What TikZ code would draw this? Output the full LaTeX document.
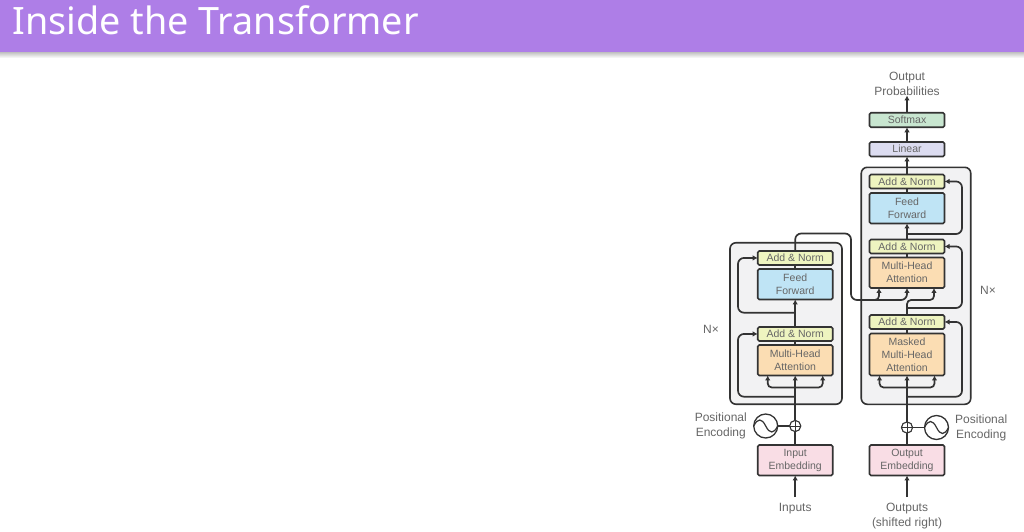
\documentclass[tikz,border=0pt]{standalone}
\usepackage{fontspec}
\setmainfont{Liberation Sans}
\newfontfamily\titlefont{Noto Sans}
\usetikzlibrary{shapes,arrows.meta,positioning,calc}

\definecolor{barpurple}{HTML}{AE7EE7}
\definecolor{panelgray}{HTML}{F2F2F3}
\definecolor{edgegray}{HTML}{333333}
\definecolor{labelgray}{HTML}{666666}
\definecolor{addfill}{HTML}{EEF4C0}
\definecolor{feedfill}{HTML}{BFE4F5}
\definecolor{headfill}{HTML}{FBDDB3}
\definecolor{embedfill}{HTML}{F9DDE5}
\definecolor{linearfill}{HTML}{DCDCF0}
\definecolor{softfill}{HTML}{C8E6D0}

\begin{document}
\begin{tikzpicture}[
    x=1pt,
    y=-1pt,
    block/.style={
        rectangle,
        draw=edgegray,
        line width=1.6pt,
        rounded corners=1.5pt,
        minimum width=75pt,
        inner sep=0pt,
        outer sep=0pt,
        align=center,
        text=labelgray,
        font=\fontsize{10.5}{13}\selectfont
    },
    addnorm/.style={block, fill=addfill, minimum height=14pt},
    feedfwd/.style={block, fill=feedfill, minimum height=30.5pt},
    attend/.style={block, fill=headfill, minimum height=30.5pt},
    embed/.style={block, fill=embedfill, minimum height=30.5pt},
    panel/.style={
        rectangle,
        draw=edgegray,
        fill=panelgray,
        line width=1.6pt,
        rounded corners=6pt,
        outer sep=0pt
    },
    caption/.style={
        align=center,
        text=labelgray,
        inner sep=0pt,
        font=\fontsize{12}{15}\selectfont
    },
    wave/.style={circle, draw=edgegray, line width=1.3pt, minimum size=24pt, inner sep=0pt, outer sep=0pt},
    adder/.style={circle, draw=edgegray, fill=white, line width=1pt, minimum size=11pt, inner sep=0pt, outer sep=0pt},
    line/.style={draw=edgegray, line width=1.7pt},
    flow/.style={line, -{Latex[length=5pt,width=5.5pt]}},
    skip/.style={flow, rounded corners=6pt},
    fork/.style={line, {Latex[length=5pt,width=5.5pt]}-{Latex[length=5pt,width=5.5pt]}, rounded corners=4pt}
]
    \useasboundingbox (0,0) rectangle (1024,532);

    % Header
    \shade [top color=black!25, bottom color=white] (0,52) rectangle (1024,58);
    \node [rectangle, fill=barpurple, minimum width=1024pt, minimum height=52pt, inner sep=0pt, outer sep=0pt] (bar) at (512,26) {};
    \node [anchor=base west, inner sep=0pt, text=white, font=\titlefont\fontsize{37.7}{40}\selectfont] (title) at (12.5,35) {Inside the Transformer};

    % Panels
    \node [panel, minimum width=112pt, minimum height=161.5pt] (encpanel) at (786,323.5) {};
    \node [panel, minimum width=109.5pt, minimum height=237pt] (decpanel) at (916,285.8) {};

    % Encoder
    \node [embed] (inembed) at (795.2,460.2) {Input\\Embedding};
    \node [adder] (inplus) at (795.2,426) {};
    \node [wave, left=12pt of inplus] (insine) {};
    \node [attend, above=69.5pt of inembed] (enchead) {Multi-Head\\Attention};
    \node [addnorm, above=4pt of enchead] (encadd) {Add \& Norm};
    \node [feedfwd, above=27.5pt of encadd] (encfeed) {Feed\\Forward};
    \node [addnorm, above=4pt of encfeed] (encaddtop) {Add \& Norm};

    % Decoder
    \node [embed] (outembed) at (907,460.2) {Output\\Embedding};
    \node [adder] (outplus) at (907,427.5) {};
    \node [wave, right=12pt of outplus] (outsine) {};
    \node [attend, minimum height=42pt, above=69.5pt of outembed] (dechead) {Masked\\Multi-Head\\Attention};
    \node [addnorm, above=4.5pt of dechead] (decadd) {Add \& Norm};
    \node [attend, above=27pt of decadd] (midhead) {Multi-Head\\Attention};
    \node [addnorm, above=4pt of midhead] (midadd) {Add \& Norm};
    \node [feedfwd, above=16pt of midadd] (decfeed) {Feed\\Forward};
    \node [addnorm, above=4.5pt of decfeed] (decaddtop) {Add \& Norm};
    \node [block, fill=linearfill, minimum height=14.5pt, above=18pt of decaddtop] (linear) {Linear};
    \node [block, fill=softfill, minimum height=14.5pt, above=14.7pt of linear] (softmax) {Softmax};

    % Labels
    \node [caption] (outprobs) at (907,83.5) {Output\\Probabilities};
    \node [caption] (inputs) at (795.2,509) {Inputs};
    \node [caption] (outputs) at (907,516) {Outputs\\(shifted right)};
    \node [caption, anchor=east] (inposlabel) at (747,425.5) {Positional\\Encoding};
    \node [caption, anchor=west] (outposlabel) at (955,427.5) {Positional\\Encoding};
    \node [caption] (encrepeat) at (711,329) {N×};
    \node [caption] (decrepeat) at (988,290) {N×};

    % Free ends
    \coordinate (intail) at (795.2,497);
    \coordinate (outtail) at (907,497);
    \coordinate (encrail) at (738,397);
    \coordinate (decrail) at (962,397);
    \coordinate (encskipa) at (795.2,396.7);
    \coordinate (encskipb) at (795.2,312.7);
    \coordinate (decskipa) at (907,396.7);
    \coordinate (decskipb) at (907,308);
    \coordinate (decskipc) at (907,234);
    \coordinate (decbranch) at (907,300);
    \coordinate (crossover) at (851,233.5);
    \coordinate (crossdown) at (851,300);

    % Edges
    \path [flow] (intail) -- (inembed);
    \path [flow] (outtail) -- (outembed);
    \path [flow] (inembed) -- (enchead);
    \path [flow] (outembed) -- (dechead);
    \path [line] (enchead) -- (encadd);
    \path [flow] (encadd) -- (encfeed);
    \path [line] (encfeed) -- (encaddtop);
    \path [line] (dechead) -- (decadd);
    \path [line] (midhead) -- (midadd);
    \path [flow] (midadd) -- (decfeed);
    \path [line] (decfeed) -- (decaddtop);
    \path [flow] (decaddtop) -- (linear);
    \path [flow] (linear) -- (softmax);
    \path [flow] (softmax) -- (outprobs);

    \path [line] (insine) -- (inplus);
    \path [line] (outsine) -- (outplus);
    \node [adder] at (inplus) {};
    \node [adder] at (outplus) {};
    \draw [edgegray, line width=1pt] (inplus.west) -- (inplus.east) (inplus.north) -- (inplus.south);
    \draw [edgegray, line width=1pt] (outplus.west) -- (outplus.east) (outplus.north) -- (outplus.south);
    \draw [edgegray, line width=1.2pt] (insine.west) .. controls +(4,-8) and +(-4,-8) .. (insine.center) .. controls +(4,8) and +(-4,8) .. (insine.east);
    \draw [edgegray, line width=1.2pt] (outsine.west) .. controls +(4,-8) and +(-4,-8) .. (outsine.center) .. controls +(4,8) and +(-4,8) .. (outsine.east);

    % Residual connections
    \path [skip] (encskipa) -- (encskipa -| encrail) |- (encadd.west);
    \path [skip] (encskipb) -- (encskipb -| encrail) |- (encaddtop.west);
    \path [skip] (decskipa) -- (decskipa -| decrail) |- (decadd.east);
    \path [skip] (decskipb) -- (decskipb -| decrail) |- (midadd.east);
    \path [skip] (decskipc) -- (decskipc -| decrail) |- (decaddtop.east);

    % Attention inputs
    \path [fork] ($(enchead.south)+(-27.5,0)$) |- ($(enchead.south)+(0,12)$) -| ($(enchead.south)+(27.5,0)$);
    \path [fork] ($(dechead.south)+(-27.5,0)$) |- ($(dechead.south)+(0,12)$) -| ($(dechead.south)+(27.5,0)$);

    % Encoder to decoder
    \path [skip] (encaddtop) |- (crossover) -- (crossdown) -| (midhead);
    \path [skip, rounded corners=4pt] ($(crossdown)+(19,0)$) -| ($(midhead.south)+(-28,0)$);
    \path [skip, rounded corners=4pt] (decadd) -- (decbranch) -| ($(midhead.south)+(27,0)$);
\end{tikzpicture}
\end{document}
